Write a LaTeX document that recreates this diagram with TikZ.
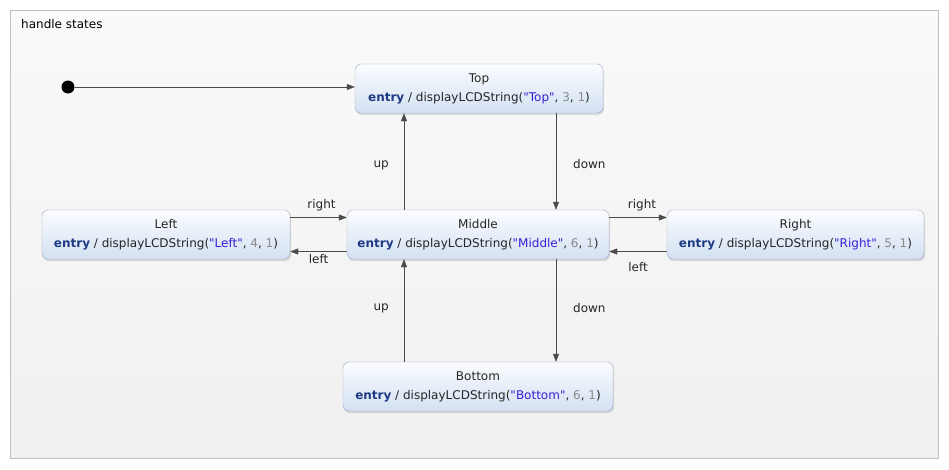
\documentclass[tikz,border=0pt]{standalone}
\usepackage{fontspec}
\newfontfamily\diagfont{DejaVu Sans}
\usepackage{xcolor}
\usetikzlibrary{arrows.meta,positioning,shadows}

\definecolor{entrynavy}{HTML}{1E3A84}
\definecolor{strblue}{HTML}{3A1FD6}
\definecolor{numgray}{HTML}{8A8A8A}
\definecolor{boxline}{HTML}{9DAABD}
\definecolor{boxtop}{HTML}{FBFCFE}
\definecolor{boxbot}{HTML}{D3E1F3}
\definecolor{linegray}{HTML}{4A4A4A}

\newcommand{\entrykw}{\textbf{\textcolor{entrynavy}{entry}}}
\newcommand{\strlit}[1]{\textcolor{strblue}{"#1"}}
\newcommand{\numlit}[1]{\textcolor{numgray}{#1}}

\begin{document}
\begin{tikzpicture}[x=1pt,y=-1pt,font=\diagfont\fontsize{12}{19}\selectfont]
	\tikzstyle{state_box}
	  =[draw=boxline, rounded corners=6pt, top color=boxtop, bottom color=boxbot,
	    minimum height=49pt, inner sep=2pt, align=center, text=black!85,
	    drop shadow={opacity=0.25, shadow xshift=1pt, shadow yshift=-2pt}]
	\tikzstyle{trans}
	  =[draw=linegray, -{Triangle[length=8pt,width=6pt]}]
	\tikzstyle{lbl}
	  =[text=black!85, inner sep=3pt]

	\useasboundingbox[fill=white] (0,0) rectangle (949,469);
	\draw[draw=black!25, top color=black!2, bottom color=black!6] (10,10) rectangle (938,458);
	\node[anchor=west, inner sep=0pt] (frame_title) at (21,24) {handle states};

	\node[circle, fill=black, minimum size=13pt, inner sep=0pt] (init)
	  at (68,87) {};

	\node[state_box, minimum width=248pt] (top)
	  at (479,88.5) {Top\\\entrykw{} / displayLCDString(\strlit{Top}, \numlit{3}, \numlit{1})};
	\node[state_box, minimum width=262pt] (middle)
	  at (478,234.5) {Middle\\\entrykw{} / displayLCDString(\strlit{Middle}, \numlit{6}, \numlit{1})};
	\node[state_box, minimum width=248pt] (left)
	  at (166,234.5) {Left\\\entrykw{} / displayLCDString(\strlit{Left}, \numlit{4}, \numlit{1})};
	\node[state_box, minimum width=257pt] (right)
	  at (795.5,234.5) {Right\\\entrykw{} / displayLCDString(\strlit{Right}, \numlit{5}, \numlit{1})};
	\node[state_box, minimum width=270pt] (bottom)
	  at (478,386.5) {Bottom\\\entrykw{} / displayLCDString(\strlit{Bottom}, \numlit{6}, \numlit{1})};

	\coordinate (up_x) at (404,0);
	\coordinate (down_x) at (556,0);

	\draw[trans] (init) -- (init -| top.west);

	\draw[trans] (middle.north -| up_x) -- node[lbl, left=12pt, yshift=-4pt] {up} (top.south -| up_x);
	\draw[trans] (top.south -| down_x) -- node[lbl, right=14pt, yshift=-3pt] {down} (middle.north -| down_x);
	\draw[trans] (middle.south -| down_x) -- node[lbl, right=14pt, yshift=2pt] {down} (bottom.north -| down_x);
	\draw[trans] (bottom.north -| up_x) -- node[lbl, left=12pt, yshift=2pt] {up} (middle.south -| up_x);

	\draw[trans] ([yshift=17pt]left.east) -- node[lbl, above=3pt, xshift=3pt] {right} ([yshift=17pt]middle.west);
	\draw[trans] ([yshift=-17pt]middle.west) -- node[lbl, below=0pt] {left} ([yshift=-17pt]left.east);
	\draw[trans] ([yshift=17pt]middle.east) -- node[lbl, above=3pt, xshift=4pt] {right} ([yshift=17pt]right.west);
	\draw[trans] ([yshift=-17pt]right.west) -- node[lbl, below=8pt] {left} ([yshift=-17pt]middle.east);
\end{tikzpicture}
\end{document}
